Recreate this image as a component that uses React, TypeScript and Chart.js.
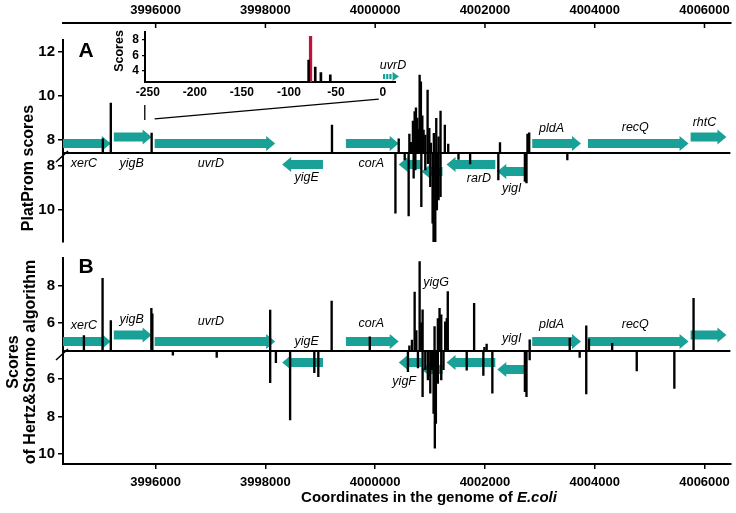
import React, { useEffect, useRef } from "react";
import { Chart, registerables } from "chart.js";
Chart.register(...registerables);

const FONT = "'Liberation Sans', Arial, Helvetica, sans-serif";
const TEAL = "#19a197";
const RED = "#c3123a";

// ---------- axes ----------
const X_MIN = 3994312;
const X_MAX = 4006472;
const xTickValues = [3996000, 3998000, 4000000, 4002000, 4004000, 4006000];

const A_BASE = 7.41;
const A_UP_MAX = 12.55;
const A_DOWN_MAX = 11.46;
const B_BASE = 4.5;
const B_UP_MAX = 9.47;
const B_DOWN_MAX = 10.54;
const aUpTicks = [8, 10, 12];
const aDownTicks = [8, 10];
const bUpTicks = [6, 8];
const bDownTicks = [6, 8, 10];

// ---------- genes ----------
const geneNames = ["xerC", "yigB", "uvrD", "yigE", "corA", "yigF", "yigG", "rarD", "yigI", "pldA", "recQ", "rhtC"];
const geneStarts = [3994150, 3995238, 3995982, 3998305, 3999467, 4000429, 4000846, 4001300, 4002225, 4002861, 4003877, 4005747];
const geneEnds = [3995183, 3995927, 3998178, 3999049, 4000429, 4000846, 4001227, 4002189, 4002716, 4003750, 4005710, 4006400];
const geneStrands = [1, 1, 1, -1, 1, -1, -1, -1, -1, 1, 1, 1];

// ---------- panel A: PlatProm scores ----------
const aUpPos = [3995038, 3995183, 3995927, 3999213, 4000429, 4000623, 4000652, 4000688, 4000719, 4000743, 4000768, 4000790, 4000810, 4000833, 4000859, 4000882, 4000913, 4000955, 4000986, 4001015, 4001069, 4001113, 4001155, 4001191, 4001269, 4001331, 4002274, 4002775, 4002806];
const aUpVal = [8.05, 9.68, 8.32, 8.68, 8.05, 8.27, 7.9, 8.86, 9.29, 9.47, 9.0, 8.5, 10.96, 10.65, 9.1, 8.45, 8.23, 10.27, 8.53, 7.86, 8.3, 8.99, 8.15, 9.32, 8.68, 7.82, 7.88, 8.27, 8.33];
const aDownPos = [4000369, 4000538, 4000610, 4000701, 4000732, 4000841, 4000913, 4000960, 4001004, 4001046, 4001064, 4001095, 4001124, 4001155, 4001191, 4001518, 4001730, 4002244, 4002728, 4002757, 4003501];
const aDownVal = [10.15, 7.73, 10.27, 8.55, 8.18, 9.85, 8.18, 7.9, 8.94, 10.6, 11.5, 11.5, 10.0, 9.55, 9.4, 7.7, 7.91, 8.64, 8.7, 8.77, 7.73];

// ---------- panel B: Hertz & Stormo scores ----------
const bUpPos = [3994693, 3995033, 3995183, 3995922, 3995940, 3998087, 3999207, 3999902, 4000623, 4000670, 4000719, 4000750, 4000810, 4000841, 4000864, 4001082, 4001142, 4001173, 4001204, 4001276, 4001305, 4001323, 4001803, 4001990, 4002031, 4002815, 4003545, 4003846, 4003895, 4004318, 4005801];
const bUpVal = [5.32, 8.39, 6.12, 6.78, 6.48, 6.69, 7.17, 5.26, 4.77, 5.09, 7.65, 5.59, 9.28, 6.0, 6.7, 5.8, 6.23, 6.78, 6.43, 6.06, 6.24, 7.67, 7.05, 4.7, 4.87, 5.1, 5.18, 5.84, 5.14, 4.91, 7.32];
const bDownPos = [3996314, 3997113, 3998087, 3998191, 3998450, 3998891, 3998964, 4000597, 4000779, 4000864, 4000913, 4000960, 4001004, 4001033, 4001064, 4001087, 4001106, 4001142, 4001204, 4001245, 4001668, 4001971, 4002135, 4002728, 4002757, 4002815, 4003726, 4003846, 4004766, 4005451];
const bDownVal = [4.72, 4.84, 6.19, 5.13, 8.19, 5.66, 5.87, 5.61, 5.4, 6.94, 5.5, 6.05, 6.76, 5.5, 7.83, 9.7, 8.37, 6.23, 6.05, 5.5, 5.52, 5.8, 6.75, 6.68, 6.94, 4.98, 4.84, 6.8, 5.57, 6.5];

// ---------- inset (positions relative to uvrD start) ----------
const INSET_X_MIN = -253;
const INSET_X_MAX = 12.8;
const INSET_Y_MIN = 2.59;
const INSET_Y_MAX = 8.94;
const insetXTicks = [-250, -200, -150, -100, -50, 0];
const insetYTicks = [4, 6, 8];
const insetPos = [-79, -72, -66, -56];
const insetScores = [5.4, 4.5, 3.8, 3.5];
const insetBestPos = [-77];
const insetBestScore = [8.4];

// ---------- layout (pixels, not data) ----------
const geneLane = [1, 2, 1, 1, 1, 1, 2, 1, 2, 1, 1, 2];
// [dx, dy] from arrow centre / baseline; null = no label
const labelA: any = {
  xerC: [-3, 11], yigB: [-1, 11], uvrD: [-4, 11], corA: [-1, 11], yigE: [4, 25],
  rarD: [8, 26], yigI: [1, 36], pldA: [-5, -24], recQ: [-3, -25], rhtC: [-4, -30],
};
const labelB: any = {
  xerC: [-3, -25], yigB: [-1, -31], uvrD: [-4, -29], corA: [-1, -27], yigE: [4, -9],
  yigG: [4, -68], yigF: [-6, 31], yigI: [1, -12], pldA: [-5, -26], recQ: [-3, -26],
};

const tickFont = { family: FONT, size: 15, weight: "bold" as const };

function drawArrow(ctx: CanvasRenderingContext2D, x1: number, x2: number, yc: number, dir: number) {
  const bh = 4.5, hh = 7.5, hl = 9;
  ctx.fillStyle = TEAL;
  ctx.beginPath();
  if (dir > 0) {
    const xb = Math.max(x1, x2 - hl);
    ctx.moveTo(x1, yc - bh); ctx.lineTo(xb, yc - bh); ctx.lineTo(xb, yc - hh);
    ctx.lineTo(x2, yc); ctx.lineTo(xb, yc + hh); ctx.lineTo(xb, yc + bh); ctx.lineTo(x1, yc + bh);
  } else {
    const xb = Math.min(x2, x1 + hl);
    ctx.moveTo(x2, yc - bh); ctx.lineTo(xb, yc - bh); ctx.lineTo(xb, yc - hh);
    ctx.lineTo(x1, yc); ctx.lineTo(xb, yc + hh); ctx.lineTo(xb, yc + bh); ctx.lineTo(x2, yc + bh);
  }
  ctx.closePath();
  ctx.fill();
}

const PANELS = [
  { up: "yAup", down: "yAdown", labels: labelA, letter: "A" },
  { up: "yBup", down: "yBdown", labels: labelB, letter: "B" },
];

const decorPlugin = {
  id: "decor",
  beforeDatasetsDraw(chart: any) {
    const { ctx, chartArea, scales } = chart;
    const xs = scales.x;
    ctx.save();
    ctx.beginPath();
    ctx.rect(chartArea.left, 0, chartArea.right - chartArea.left, chart.height);
    ctx.clip();
    for (const p of PANELS) {
      const base = scales[p.up].bottom;
      geneNames.forEach((_, i) => {
        const x1 = xs.getPixelForValue(geneStarts[i]);
        const x2 = xs.getPixelForValue(geneEnds[i]);
        const dir = geneStrands[i];
        const lane = geneLane[i];
        const yc = dir > 0 ? base - (lane === 1 ? 9.5 : 16) : base + (lane === 1 ? 11.5 : 18.5);
        drawArrow(ctx, x1, x2, yc, dir);
      });
    }
    ctx.restore();
  },
  afterDatasetsDraw(chart: any) {
    const { ctx, chartArea, scales } = chart;
    const xs = scales.x;
    ctx.save();
    // baselines
    ctx.strokeStyle = "#000";
    ctx.lineWidth = 2;
    for (const p of PANELS) {
      const base = scales[p.up].bottom;
      ctx.beginPath();
      ctx.moveTo(chartArea.left, base);
      ctx.lineTo(chartArea.right, base);
      ctx.stroke();
      // axis break mark
      ctx.lineWidth = 1.5;
      ctx.beginPath();
      ctx.moveTo(chartArea.left - 7, base + 9);
      ctx.lineTo(chartArea.left + 5, base - 2);
      ctx.stroke();
      ctx.lineWidth = 2;
    }
    // gene labels
    ctx.fillStyle = "#000";
    ctx.font = `italic 12.5px ${FONT}`;
    ctx.textAlign = "center";
    ctx.textBaseline = "middle";
    for (const p of PANELS) {
      const base = scales[p.up].bottom;
      geneNames.forEach((name, i) => {
        const pl = p.labels[name];
        if (!pl) return;
        const x1 = Math.max(chartArea.left, xs.getPixelForValue(geneStarts[i]));
        const x2 = Math.min(chartArea.right, xs.getPixelForValue(geneEnds[i]));
        ctx.fillText(name, (x1 + x2) / 2 + pl[0], base + pl[1]);
      });
    }
    // panel letters
    ctx.font = `bold 21px ${FONT}`;
    ctx.fillText("A", chartArea.left + 23, scales.yAup.top + 11);
    ctx.fillText("B", chartArea.left + 23, scales.yBup.top + 9);
    // zoom guides for the inset
    const ya = scales.yAup;
    const uv = geneStarts[2];
    ctx.lineWidth = 1.3;
    ctx.beginPath();
    ctx.moveTo(xs.getPixelForValue(uv - 180), ya.getPixelForValue(9.59));
    ctx.lineTo(xs.getPixelForValue(uv - 180), ya.getPixelForValue(8.91));
    ctx.moveTo(xs.getPixelForValue(uv), ya.getPixelForValue(8.96));
    ctx.lineTo(xs.getPixelForValue(4000066), ya.getPixelForValue(9.86));
    ctx.stroke();
    ctx.restore();
  },
  afterDraw(chart: any) {
    const { ctx, chartArea, scales } = chart;
    ctx.save();
    // downward ticks on the top axis
    const xt = scales.x2;
    ctx.strokeStyle = "#000";
    ctx.lineWidth = 1.5;
    for (const v of xTickValues) {
      const px = xt.getPixelForValue(v);
      ctx.beginPath();
      ctx.moveTo(px, xt.bottom);
      ctx.lineTo(px, xt.bottom + 5);
      ctx.stroke();
    }
    ctx.fillStyle = "#000";
    ctx.textAlign = "center";
    ctx.textBaseline = "middle";
    ctx.font = `bold 16px ${FONT}`;
    // y titles
    const cA = 168;
    ctx.save();
    ctx.translate(29, cA);
    ctx.rotate(-Math.PI / 2);
    ctx.fillText("PlatProm scores", 0, 0);
    ctx.restore();
    const cB = 362;
    ctx.save();
    ctx.translate(14, cB);
    ctx.rotate(-Math.PI / 2);
    ctx.fillText("Scores", 0, 0);
    ctx.restore();
    ctx.save();
    ctx.translate(31, cB);
    ctx.rotate(-Math.PI / 2);
    ctx.fillText("of Hertz&Stormo algorithm", 0, 0);
    ctx.restore();
    // x title (mixed style)
    const t1 = "Coordinates in the genome of ";
    const t2 = "E.coli";
    ctx.font = `bold 15px ${FONT}`;
    const w1 = ctx.measureText(t1).width;
    ctx.font = `italic bold 15px ${FONT}`;
    const w2 = ctx.measureText(t2).width;
    const cx = 429;
    const ty = 498;
    ctx.textAlign = "left";
    ctx.font = `bold 15px ${FONT}`;
    ctx.fillText(t1, cx - (w1 + w2) / 2, ty);
    ctx.font = `italic bold 15px ${FONT}`;
    ctx.fillText(t2, cx - (w1 + w2) / 2 + w1, ty);
    ctx.restore();
  },
};

const bars = (pos: number[], val: number[], base: number, yAxisID: string, color = "#000") => ({
  type: "bar" as const,
  data: pos.map((p, i) => ({ x: p, y: [base, val[i]] })),
  xAxisID: "x",
  yAxisID,
  backgroundColor: color,
  borderWidth: 0,
  barThickness: 1.7,
  grouped: false,
});

const yAxis = (min: number, max: number, ticks: number[], weight: number, reverse: boolean) => ({
  type: "linear" as const,
  position: "left" as const,
  stack: "left",
  stackWeight: weight,
  min,
  max,
  reverse,
  beginAtZero: false,
  afterBuildTicks: (s: any) => { s.ticks = ticks.map((v) => ({ value: v })); },
  afterFit: (s: any) => { s.width = 63; },
  ticks: { font: tickFont, color: "#000", padding: 3 },
  grid: { drawOnChartArea: false, tickLength: 5, color: "#000", lineWidth: 1.5 },
  border: { color: "#000", width: 2 },
});

const gapAxis = (weight: number) => ({
  type: "linear" as const,
  position: "left" as const,
  stack: "left",
  stackWeight: weight,
  min: 0,
  max: 1,
  afterFit: (s: any) => { s.width = 63; },
  ticks: { display: false },
  grid: { display: false },
  border: { display: false },
});

const xAxisBase = (position: "top" | "bottom", height: number) => ({
  type: "linear" as const,
  position,
  min: X_MIN,
  max: X_MAX,
  offset: false,
  afterBuildTicks: (s: any) => { s.ticks = xTickValues.map((v) => ({ value: v })); },
  afterFit: (s: any) => { s.height = height; },
  ticks: {
    callback: (v: any) => String(v),
    font: { family: FONT, size: 13, weight: "bold" as const },
    color: "#000",
    padding: position === "bottom" ? 6 : 5,
    maxRotation: 0,
    autoSkip: false,
  },
  grid: {
    offset: false,
    drawOnChartArea: false,
    drawTicks: position === "bottom",
    tickLength: 5,
    color: "#000",
    lineWidth: 1.5,
  },
  border: { color: "#000", width: 2 },
});

const insetPlugin = {
  id: "insetDecor",
  afterDraw(chart: any) {
    const { ctx, scales } = chart;
    const xs = scales.x;
    const ys = scales.y;
    ctx.save();
    ctx.fillStyle = "#000";
    ctx.font = `bold 12.5px ${FONT}`;
    ctx.textAlign = "center";
    ctx.textBaseline = "middle";
    ctx.save();
    ctx.translate(30, 29);
    ctx.rotate(-Math.PI / 2);
    ctx.fillText("Scores", 0, 0);
    ctx.restore();
    // dashed uvrD arrow
    const x0 = xs.getPixelForValue(0);
    const yc = ys.getPixelForValue(3.29);
    ctx.fillStyle = TEAL;
    for (let k = 0; k < 3; k++) ctx.fillRect(x0 + k * 3.2, yc - 2.5, 2.2, 5);
    ctx.beginPath();
    ctx.moveTo(x0 + 9.6, yc - 4.5);
    ctx.lineTo(x0 + 16, yc);
    ctx.lineTo(x0 + 9.6, yc + 4.5);
    ctx.closePath();
    ctx.fill();
    ctx.fillStyle = "#000";
    ctx.font = `italic 12.5px ${FONT}`;
    ctx.fillText("uvrD", x0 + 10, ys.getPixelForValue(4.65));
    ctx.restore();
  },
};

export default function App() {
  const mainRef = useRef<HTMLCanvasElement>(null);
  const insetRef = useRef<HTMLCanvasElement>(null);

  useEffect(() => {
    const main = new Chart(mainRef.current as HTMLCanvasElement, {
      type: "bar",
      data: {
        datasets: [
          bars(aUpPos, aUpVal, A_BASE, "yAup"),
          bars(aDownPos, aDownVal, A_BASE, "yAdown"),
          bars(bUpPos, bUpVal, B_BASE, "yBup"),
          bars(bDownPos, bDownVal, B_BASE, "yBdown"),
        ] as any,
      },
      options: {
        responsive: false,
        animation: false,
        layout: { padding: { left: 0, right: 3, top: 0, bottom: 0 } },
        plugins: { legend: { display: false }, tooltip: { enabled: false } },
        scales: {
          x: xAxisBase("bottom", 49),
          x2: xAxisBase("top", 23),
          yBdown: yAxis(B_BASE, B_DOWN_MAX, bDownTicks, 113, true),
          yBup: yAxis(B_BASE, B_UP_MAX, bUpTicks, 93, false),
          gapMid: gapAxis(16),
          yAdown: yAxis(A_BASE, A_DOWN_MAX, aDownTicks, 89, true),
          yAup: yAxis(A_BASE, A_UP_MAX, aUpTicks, 113, false),
          gapTop: gapAxis(17),
        } as any,
      },
      plugins: [decorPlugin],
    });

    const inset = new Chart(insetRef.current as HTMLCanvasElement, {
      type: "bar",
      data: {
        datasets: [
          {
            data: insetPos.map((p, i) => ({ x: p, y: [INSET_Y_MIN, insetScores[i]] })),
            backgroundColor: "#000",
            barThickness: 2,
            grouped: false,
          },
          {
            data: insetBestPos.map((p, i) => ({ x: p, y: [INSET_Y_MIN, insetBestScore[i]] })),
            backgroundColor: RED,
            barThickness: 2.6,
            grouped: false,
          },
        ] as any,
      },
      options: {
        responsive: false,
        animation: false,
        layout: { padding: { left: 0, right: 15, top: 6, bottom: 0 } },
        plugins: { legend: { display: false }, tooltip: { enabled: false } },
        scales: {
          x: {
            type: "linear",
            min: INSET_X_MIN,
            max: INSET_X_MAX,
            offset: false,
            afterBuildTicks: (s: any) => { s.ticks = insetXTicks.map((v) => ({ value: v })); },
            afterFit: (s: any) => { s.height = 22; },
            ticks: {
              callback: (v: any) => String(v),
              font: { family: FONT, size: 12, weight: "bold" },
              color: "#000",
              padding: 3,
              maxRotation: 0,
              autoSkip: false,
            },
            grid: { offset: false, drawOnChartArea: false, drawTicks: false },
            border: { color: "#000", width: 2 },
          },
          y: {
            type: "linear",
            min: INSET_Y_MIN,
            max: INSET_Y_MAX,
            beginAtZero: false,
            afterBuildTicks: (s: any) => { s.ticks = insetYTicks.map((v) => ({ value: v })); },
            afterFit: (s: any) => { s.width = 55; },
            ticks: { font: { family: FONT, size: 12, weight: "bold" }, color: "#000", padding: 3 },
            grid: { drawOnChartArea: false, tickLength: 3, color: "#000", lineWidth: 1.2 },
            border: { color: "#000", width: 2 },
          },
        } as any,
      },
      plugins: [insetPlugin],
    });

    return () => {
      main.destroy();
      inset.destroy();
    };
  }, []);

  return (
    <div style={{ position: "fixed", left: 0, top: 0, width: 736, height: 513, background: "#fff" }}>
      <canvas ref={mainRef} width={736} height={513} style={{ position: "absolute", left: 0, top: 0 }} />
      <canvas ref={insetRef} width={320} height={82} style={{ position: "absolute", left: 90, top: 22 }} />
    </div>
  );
}
